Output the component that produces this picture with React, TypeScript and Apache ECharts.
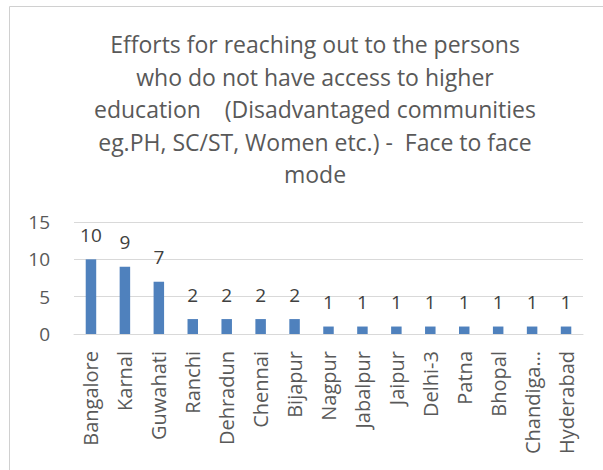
import React, { useEffect, useRef } from "react";
import * as echarts from "echarts";

const titleLines = [
  "Efforts for reaching out to the persons",
  "who do not have access to higher",
  "education    (Disadvantaged communities",
  "eg.PH, SC/ST, Women etc.) -  Face to face",
  "mode",
];
const categories = [
  "Bangalore", "Karnal", "Guwahati", "Ranchi", "Dehradun", "Chennai", "Bijapur",
  "Nagpur", "Jabalpur", "Jaipur", "Delhi-3", "Patna", "Bhopal", "Chandigarh", "Hyderabad",
];
const values = [10, 9, 7, 2, 2, 2, 2, 1, 1, 1, 1, 1, 1, 1, 1];

export default function App() {
  const ref = useRef<HTMLDivElement>(null);
  useEffect(() => {
    if (!ref.current) return;
    const chart = echarts.init(ref.current, null, { renderer: "svg" });
    const font = "Open Sans, Liberation Sans, sans-serif";
    chart.setOption({
      animation: false,
      backgroundColor: "#ffffff",
      title: {
        text: titleLines.join("\n"),
        left: 310,
        top: 23,
        textAlign: "center",
        textStyle: { fontFamily: font, fontSize: 23, fontWeight: "normal", color: "#595959", lineHeight: 32.5 },
      },
      graphic: [
        {
          type: "rect",
          shape: { x: 9.5, y: 6.5, width: 700, height: 600 },
          style: { fill: "none", stroke: "#d0d0d0", lineWidth: 1 },
          silent: true,
        },
      ],
      grid: { left: 74, right: 20, top: 222, bottom: 136, containLabel: false },
      xAxis: {
        type: "category",
        data: categories,
        axisLine: { lineStyle: { color: "#d9d9d9" } },
        axisTick: { show: false },
        axisLabel: {
          rotate: 90,
          interval: 0,
          margin: 17,
          fontFamily: font,
          fontSize: 20,
          color: "#595959",
          formatter: (v: string) => (v.length > 9 ? v.slice(0, 8) + "…" : v),
        },
      },
      yAxis: {
        type: "value",
        min: 0,
        max: 15,
        interval: 5,
        axisLine: { show: false },
        axisTick: { show: false },
        splitLine: { lineStyle: { color: "#d9d9d9" } },
        axisLabel: { margin: 24, fontFamily: font, fontSize: 19, color: "#595959" },
      },
      series: [
        {
          type: "bar",
          data: values,
          barWidth: 10.5,
          itemStyle: { color: "#4f81bd" },
          label: {
            show: true,
            position: "top",
            distance: 15,
            fontFamily: font,
            fontSize: 19,
            color: "#404040",
          },
        },
      ],
    });
    return () => chart.dispose();
  }, []);
  return (
    <div style={{ position: "fixed", left: 0, top: 0, width: 603, height: 470, background: "#fff" }}>
      <div ref={ref} style={{ width: 603, height: 470 }} />
    </div>
  );
}
